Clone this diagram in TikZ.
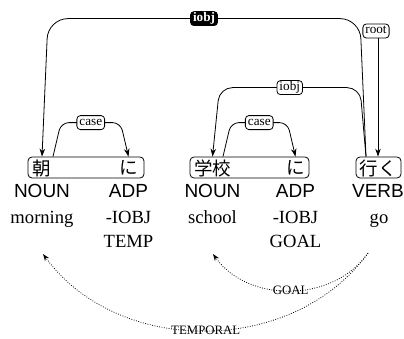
\documentclass[tikz,border=0pt]{standalone}
\usepackage{fontspec}
\setmainfont{Liberation Serif}
\setsansfont{Liberation Sans}
\newfontfamily\jpfont{Noto Sans CJK JP}
\usetikzlibrary{arrows.meta,calc}

\tikzset{
	word/.style={font=\jpfont\fontsize{18.5}{20}\selectfont, inner sep=0pt},
	wbox/.style={draw, rounded corners=4pt, line width=0.8pt, minimum height=21pt, inner sep=0pt},
	postag/.style={font=\sffamily\fontsize{19}{21}\selectfont, anchor=base, inner sep=0pt},
	gloss/.style={font=\fontsize{18.6}{22}\selectfont, anchor=base, inner sep=0pt},
	deplabel/.style={draw, fill=white, rounded corners=3.5pt, line width=0.8pt, inner xsep=2.5pt, inner ysep=1pt,
		text height=9pt, text depth=3pt, font=\fontsize{13.2}{14}\selectfont},
	deproot/.style={deplabel, fill=black, text=white, font=\bfseries\fontsize{13.2}{14}\selectfont},
	rolelabel/.style={inner sep=0pt, font=\fontsize{12.8}{13}\selectfont},
	depedge/.style={line width=0.8pt, -{Stealth[length=8pt,width=5.5pt]}},
	roleedge/.style={line width=0.8pt, dash pattern=on 0.8pt off 1.6pt, -{Stealth[length=7pt,width=5pt]}},
}

\begin{document}
\begin{tikzpicture}[x=1pt,y=1pt]
	\useasboundingbox (0,0) rectangle (404,338);

	% word boxes
	\node[wbox, minimum width=116pt] (b1) at (86,170.5) {};
	\node[wbox, minimum width=119pt] (b2) at (249.5,170.5) {};
	\node[wbox, minimum width=45pt] (b3) at (378.5,170.5) {};

	% the words
	\node[word] (w1) at (42,170) {朝};
	\node[word] (w2) at (128.5,170) {に};
	\node[word] (w3) at (212.5,170) {学校};
	\node[word] (w4) at (295.5,170) {に};
	\node[word] (w5) at (378,170) {行く};

	% tags
	\node[postag] (p1) at (42,141) {NOUN};
	\node[postag] (p2) at (128.5,141) {ADP};
	\node[postag] (p3) at (212.5,141) {NOUN};
	\node[postag] (p4) at (295.5,141) {ADP};
	\node[postag] (p5) at (378,141) {VERB};

	% glosses
	\node[gloss] (g1) at (42,115) {morning};
	\node[gloss] (g2) at (128.5,115) {-IOBJ};
	\node[gloss] (t2) at (128.5,91) {TEMP};
	\node[gloss] (g3) at (212.5,115) {school};
	\node[gloss] (g4) at (295.5,115) {-IOBJ};
	\node[gloss] (t4) at (295.5,91) {GOAL};
	\node[gloss] (g5) at (379,115) {go};

	% case arcs
	\draw[depedge, rounded corners=8pt] ($(w1 |- b1.north)+(11,0)$) -- ++(8,34)
		-- node[deplabel] {case} ($(w2 |- b1.north)+(-8,34)$) -- (w2 |- b1.north);
	\draw[depedge, rounded corners=8pt] ($(w3 |- b2.north)+(10.5,0)$) -- ++(8,34)
		-- node[deplabel] {case} ($(w4 |- b2.north)+(-8,34)$) -- (w4 |- b2.north);

	% iobj arcs
	\draw[depedge, rounded corners=13pt] ($(w5 |- b3.north)+(-12,0)$) -- ++(-6,69)
		-- node[deplabel] {iobj} ($(w3 |- b2.north)+(7,69)$) -- (w3 |- b2.north);
	\draw[depedge, rounded corners=20pt] ($(w5 |- b3.north)+(-12,0)$) -- ++(-6,138)
		-- node[deproot] {iobj} ($(w1 |- b1.north)+(6,138)$) -- (w1 |- b1.north);

	% root
	\node[deplabel] (rl) at (376,307) {root};
	\draw[depedge] (rl.south -| w5) -- (w5 |- b3.north);

	% role arcs
	\coordinate (s5) at (368,85);
	\coordinate (e3) at (213,84);
	\coordinate (e1) at (43,84);
	\draw[roleedge] (s5) to[bend left=55] node[rolelabel] {GOAL} (e3);
	\draw[roleedge] (s5) to[bend left=54] node[rolelabel] {TEMPORAL} (e1);
\end{tikzpicture}
\end{document}
